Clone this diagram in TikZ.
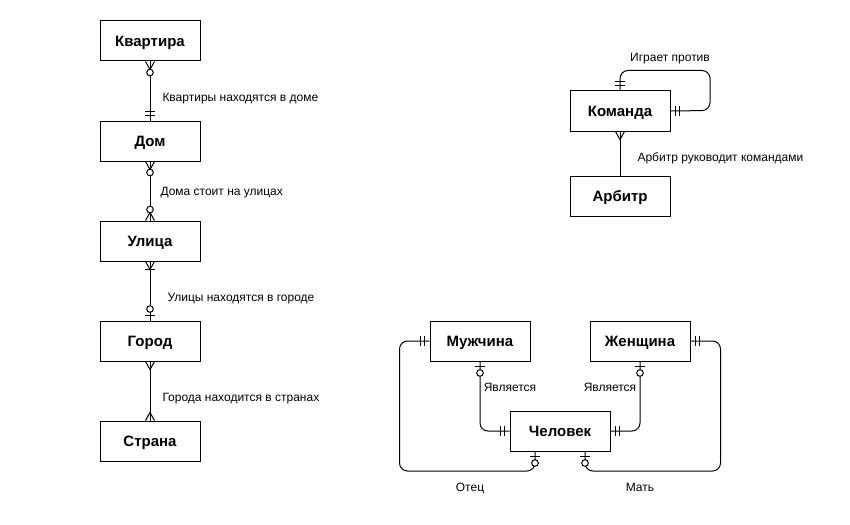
\documentclass[tikz,border=0pt]{standalone}
\usepackage{fontspec}
\setmainfont{Liberation Sans}
\begin{document}
\begin{tikzpicture}[x=1pt,y=-1pt,line width=1pt,
  entity/.style={draw,fill=white,minimum width=100pt,minimum height=40pt,inner sep=0pt,text height=10.7pt,text depth=0pt,font=\fontsize{15}{18}\selectfont\bfseries},
  lbl/.style={inner sep=0pt,text height=8.6pt,text depth=0pt,font=\fontsize{12}{14}\selectfont},
  conn/.style={draw,line width=1pt},
  ermany/.pic={\draw (0,-4.5) -- (8,0) -- (0,4.5);},
  erzeromany/.pic={\draw (0,-4.5) -- (8,0) -- (0,4.5); \draw[fill=white] (11,0) circle (3.3);},
  eronemany/.pic={\draw (0,-4.5) -- (8,0) -- (0,4.5); \draw (8,-5) -- (8,5);},
  erzeroone/.pic={\draw (5,-5) -- (5,5); \draw[fill=white] (11.5,0) circle (3.3);},
  ermandone/.pic={\draw (5,-5) -- (5,5); \draw (9,-5) -- (9,5);}
]
\fill[white] (0,0) rectangle (850,524);
\useasboundingbox (0,0) rectangle (850,524);

% entities
\node[entity] (kv) at (150,41) {Квартира};
\node[entity] (dom) at (150,141) {Дом};
\node[entity] (ul) at (150,241) {Улица};
\node[entity] (gor) at (150,341) {Город};
\node[entity] (str) at (150,441) {Страна};
\node[entity] (kom) at (620,111) {Команда};
\node[entity] (arb) at (620,196) {Арбитр};
\node[entity] (man) at (480,341) {Мужчина};
\node[entity] (wom) at (640,341) {Женщина};
\node[entity] (chel) at (560,431) {Человек};

% connectors
\draw[conn] (kv.south) -- (dom.north);
\draw[conn] (dom.south) -- (ul.north);
\draw[conn] (ul.south) -- (gor.north);
\draw[conn] (gor.south) -- (str.north);
\draw[conn,rounded corners=8pt] (kom.north) -- ++(0,-20) -- ++(90,0) -- ++(0,40) -- (kom.east);
\draw[conn] (kom.south) -- (arb.north);
\draw[conn,rounded corners=8pt] (man.south) |- (chel.west);
\draw[conn,rounded corners=8pt] (wom.south) |- (chel.east);
\draw[conn,rounded corners=8pt] (man.west) -- ++(-30,0) -- ++(0,130) -| ([xshift=-25pt]chel.south);
\draw[conn,rounded corners=8pt] (wom.east) -- ++(30,0) -- ++(0,130) -| ([xshift=25pt]chel.south);

% markers
\pic[rotate=-90] at (kv.south) {erzeromany};
\pic[rotate=90] at (dom.north) {ermandone};
\pic[rotate=-90] at (dom.south) {erzeromany};
\pic[rotate=90] at (ul.north) {erzeromany};
\pic[rotate=-90] at (ul.south) {eronemany};
\pic[rotate=90] at (gor.north) {erzeroone};
\pic[rotate=-90] at (gor.south) {ermany};
\pic[rotate=90] at (str.north) {ermany};
\pic[rotate=90] at (kom.north) {ermandone};
\pic at (kom.east) {ermandone};
\pic[rotate=-90] at (kom.south) {ermany};
\pic[rotate=-90] at (man.south) {erzeroone};
\pic[rotate=180] at (chel.west) {ermandone};
\pic[rotate=-90] at (wom.south) {erzeroone};
\pic at (chel.east) {ermandone};
\pic[rotate=180] at (man.west) {ermandone};
\pic at (wom.east) {ermandone};
\pic[rotate=-90] at ([xshift=-25pt]chel.south) {erzeroone};
\pic[rotate=-90] at ([xshift=25pt]chel.south) {erzeroone};

% labels
\node[lbl,anchor=west] (l1) at (162,97) {Квартиры находятся в доме};
\node[lbl,anchor=west] (l2) at (160,191) {Дома стоит на улицах};
\node[lbl,anchor=west] (l3) at (167,297) {Улицы находятся в городе};
\node[lbl,anchor=west] (l4) at (162,397) {Города находится в странах};
\node[lbl] (l5) at (670,57) {Играет против};
\node[lbl,anchor=west] (l6) at (637,157) {Арбитр руководит командами};
\node[lbl] (l7) at (510,387) {Является};
\node[lbl] (l8) at (610,387) {Является};
\node[lbl] (l9) at (470,487) {Отец};
\node[lbl] (l10) at (640,487) {Мать};
\end{tikzpicture}
\end{document}
